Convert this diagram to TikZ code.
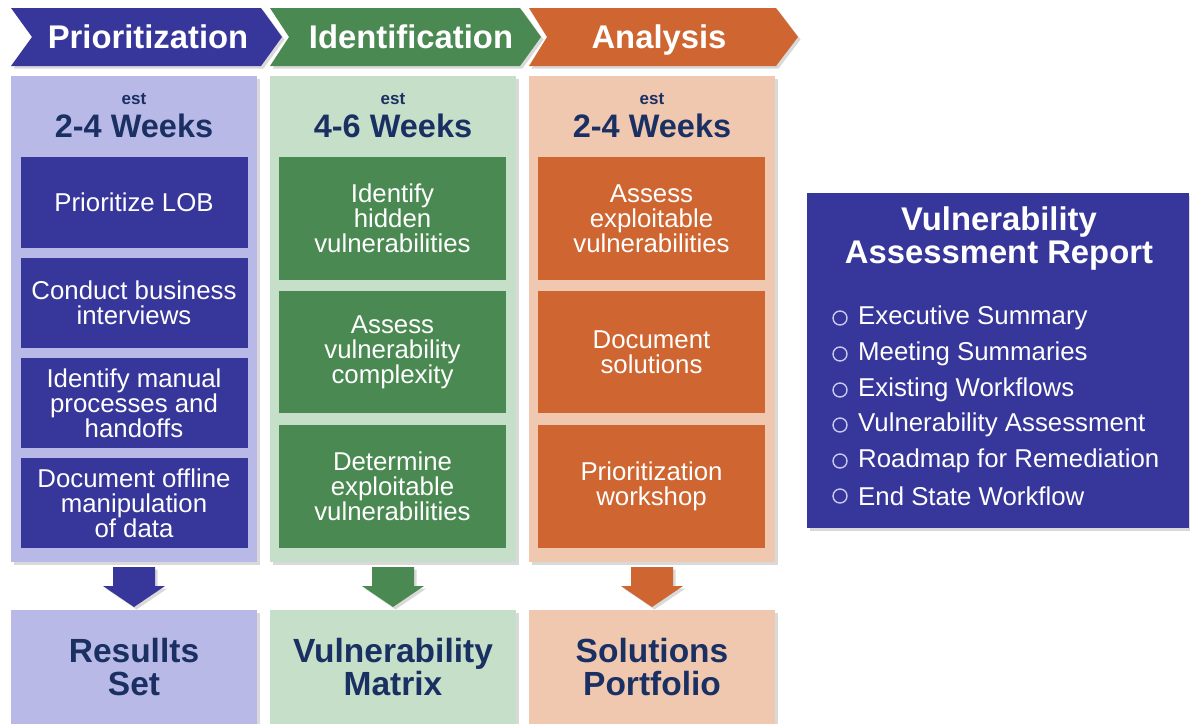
\documentclass[tikz,border=0pt]{standalone}
\usepackage{fontspec}
\setmainfont{Liberation Sans}
\usetikzlibrary{shadows,calc}
\definecolor{dblue}{HTML}{37369A}
\definecolor{lblue}{HTML}{B9B9E8}
\definecolor{dgreen}{HTML}{4A8A52}
\definecolor{lgreen}{HTML}{C5DFC9}
\definecolor{dorange}{HTML}{CF6530}
\definecolor{lorange}{HTML}{F0C8B0}
\definecolor{navy}{HTML}{1A3062}
\definecolor{bulletc}{HTML}{C8C8F2}
\tikzset{
  shad/.style={drop shadow={opacity=0.3, shadow xshift=2.5pt, shadow yshift=-2.5pt}},
  panel/.style={shad, anchor=north west, inner sep=0pt, outer sep=0pt, minimum width=246pt, minimum height=486pt},
  resbox/.style={shad, anchor=north west, inner sep=0pt, outer sep=0pt, minimum width=246pt, minimum height=130pt},
  taskbox/.style={inner sep=0pt, outer sep=0pt, minimum width=227pt, text=white, align=center, font=\fontsize{25.8}{25}\selectfont},
  headtxt/.style={text=white, anchor=base, font=\fontsize{32.8}{33}\selectfont\bfseries},
  esttxt/.style={text=navy, anchor=base, font=\fontsize{17}{18}\selectfont\bfseries},
  weektxt/.style={text=navy, anchor=base, font=\fontsize{32.5}{33}\selectfont\bfseries},
  restxt/.style={text=navy, align=center, font=\fontsize{33.5}{33}\selectfont\bfseries},
  itemtxt/.style={text=white, anchor=west, inner sep=0pt, font=\fontsize{25.8}{26}\selectfont},
  bul/.style={circle, draw=bulletc, line width=1.4pt, minimum size=14pt, inner sep=0pt}
}
\begin{document}
\begin{tikzpicture}[x=1pt,y=-1pt]
\useasboundingbox (0,0) rectangle (1190,723);
\clip (0,0) rectangle (1190,723);

% chevrons
\fill[dblue, shad] (11,8) -- (261,8) -- (282,37) -- (261,66) -- (11,66) -- (32,37) -- cycle;
\fill[dgreen, shad] (270,8) -- (520,8) -- (541,37) -- (520,66) -- (270,66) -- (289,37) -- cycle;
\fill[dorange, shad] (529,8) -- (776,8) -- (798,37) -- (776,66) -- (529,66) -- (547,37) -- cycle;
\node[headtxt] (h1) at (148,48) {Prioritization};
\node[headtxt] (h2) at (411,48) {Identification};
\node[headtxt] (h3) at (659,48) {Analysis};

% panels
\node[panel, fill=lblue] (p1) at (11,76) {};
\node[panel, fill=lgreen] (p2) at (270,76) {};
\node[panel, fill=lorange] (p3) at (529,76) {};

\node[esttxt] (e1) at (134,104) {est};
\node[esttxt] (e2) at (393,104) {est};
\node[esttxt] (e3) at (652,104) {est};
\node[weektxt] (w1) at (134,137) {2-4 Weeks};
\node[weektxt] (w2) at (393,137) {4-6 Weeks};
\node[weektxt] (w3) at (652,137) {2-4 Weeks};

% column 1 tasks
\node[taskbox, fill=dblue, minimum height=91pt] (a1) at (134,202.5) {Prioritize LOB};
\node[taskbox, fill=dblue, minimum height=90pt] (a2) at (134,303) {Conduct business\\interviews};
\node[taskbox, fill=dblue, minimum height=90pt] (a3) at (134,403) {Identify manual\\processes and\\handoffs};
\node[taskbox, fill=dblue, minimum height=90pt] (a4) at (134,503) {Document offline\\manipulation\\of data};

% column 2 tasks
\node[taskbox, fill=dgreen, minimum height=123pt] (b1) at (392.5,218.5) {Identify\\hidden\\vulnerabilities};
\node[taskbox, fill=dgreen, minimum height=122pt] (b2) at (392.5,352) {Assess\\vulnerability\\complexity};
\node[taskbox, fill=dgreen, minimum height=123pt] (b3) at (392.5,486.5) {Determine\\exploitable\\vulnerabilities};

% column 3 tasks
\node[taskbox, fill=dorange, minimum height=123pt] (c1) at (651.5,218.5) {Assess\\exploitable\\vulnerabilities};
\node[taskbox, fill=dorange, minimum height=122pt] (c2) at (651.5,352) {Document\\solutions};
\node[taskbox, fill=dorange, minimum height=123pt] (c3) at (651.5,486.5) {Prioritization\\workshop};

% result boxes
\node[resbox, fill=lblue] (r1) at (11,610) {};
\node[resbox, fill=lgreen] (r2) at (270,610) {};
\node[resbox, fill=lorange] (r3) at (529,610) {};
\node[restxt] (t1) at (134,667) {Resullts\\Set};
\node[restxt] (t2) at (393,667) {Vulnerability\\Matrix};
\node[restxt] (t3) at (652,667) {Solutions\\Portfolio};

% block arrows
\foreach \p/\r/\c in {p1/r1/dblue, p2/r2/dgreen, p3/r3/dorange}{
  \fill[\c, shad] ($(\p.south)+(-21,5)$) -- ($(\p.south)+(21,5)$) -- ($(\p.south)+(21,24)$) -- ($(\p.south)+(31,24)$)
     -- ($(\r.north)+(0,-3)$) -- ($(\p.south)+(-31,24)$) -- ($(\p.south)+(-21,24)$) -- cycle;
}

% report box
\node[shad, fill=dblue, anchor=north west, inner sep=0pt, minimum width=382pt, minimum height=335pt] (rep) at (807,193) {};
\node[text=white, align=center, font=\fontsize{32.8}{33}\selectfont\bfseries] (rept) at (999,238.5) {Vulnerability\\Assessment Report};
\foreach \i/\y/\t in {1/318/Executive Summary, 2/354/Meeting Summaries, 3/390/Existing Workflows, 4/425/Vulnerability Assessment, 5/461/Roadmap for Remediation, 6/496/End State Workflow}{
  \node[bul] (b\i) at (840,\y) {};
  \node[itemtxt] (it\i) at (858,\y) {\t};
}
\end{tikzpicture}
\end{document}
